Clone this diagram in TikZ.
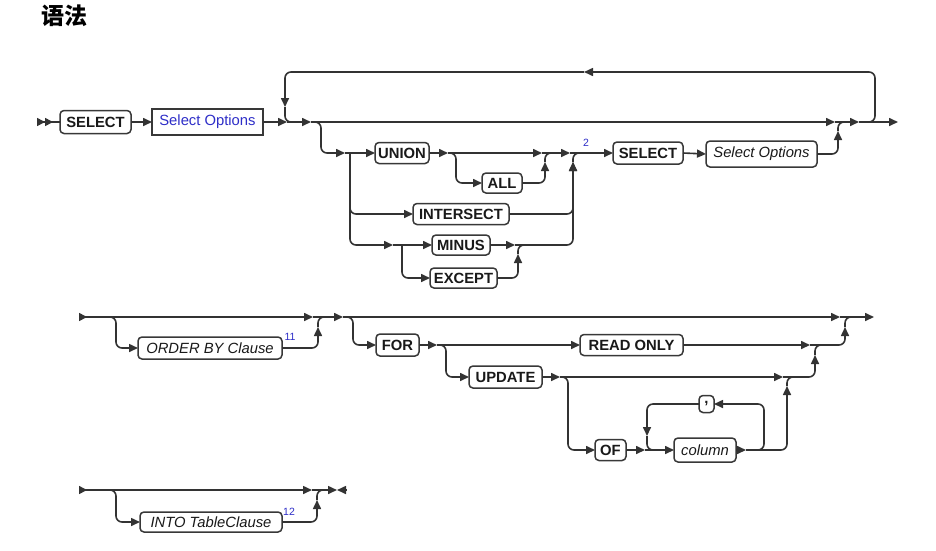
\documentclass[tikz,border=0pt]{standalone}
\usepackage{fontspec}
\setmainfont{Liberation Sans}
\newfontfamily\cjk{Noto Sans CJK SC}
\usetikzlibrary{arrows.meta}
\definecolor{linec}{HTML}{333333}
\definecolor{boxc}{HTML}{383838}
\definecolor{bluet}{HTML}{2E2EC8}
\begin{document}
\begin{tikzpicture}[x=1pt,y=-1pt,
  every node/.style={inner sep=0pt,outer sep=0pt},
  boxbase/.style={draw=boxc,line width=1.5pt,rounded corners=4pt,text=black!90,minimum height=21},
  kw/.style={boxbase,font=\fontsize{14.8}{16}\selectfont\bfseries},
  nt/.style={boxbase,font=\fontsize{14.8}{16}\selectfont\itshape},
  ntblue/.style={draw=boxc,line width=1.5pt,text=bluet,font=\fontsize{14.8}{16}\selectfont},
  rr/.style={draw=linec,line width=1.6pt,rounded corners=6pt},
  ar/.style={rr,-{Triangle[length=9pt,width=8pt]}},
  supnum/.style={text=bluet,font=\fontsize{10.5}{12}\selectfont}
]
\fill[white] (0,0) rectangle (936,550);
\useasboundingbox (0,0) rectangle (936,550);

\node[font=\cjk\fontsize{23}{26}\selectfont\bfseries] (title) at (64,16) {语法};

% ---------------- Row 1 ----------------
\node[kw,minimum width=71,minimum height=23] (sel1) at (95.5,122) {SELECT};
\node[ntblue,minimum width=111,minimum height=26] (so1) at (207.5,122) {Select Options};
\node[kw,minimum width=54] (union) at (402,153) {UNION};
\node[kw,minimum width=40,minimum height=20] (all) at (502,183) {ALL};
\node[kw,minimum width=96] (intersect) at (461,214) {INTERSECT};
\node[kw,minimum width=58,minimum height=20] (minus) at (461,245) {MINUS};
\node[kw,minimum width=67,minimum height=20] (except) at (463.5,278) {EXCEPT};
\node[kw,minimum width=70,minimum height=22] (sel2) at (648,153) {SELECT};
\node[nt,minimum width=111,minimum height=26] (so2) at (761.5,154) {Select Options};
\node[supnum] (sup2) at (586,143) {2};

\coordinate (s1) at (37,122);
\coordinate (j1) at (287,122);
\coordinate (j2) at (311,122);
\coordinate (j3) at (835,122);
\coordinate (j4) at (859,122);
\coordinate (e1) at (898,122);
\coordinate (lr) at (875,72);
\coordinate (lm) at (584,72);
\coordinate (ll) at (285,107);
\coordinate (m1) at (297,122);
\coordinate (b1) at (345,153);
\coordinate (v1) at (350,153);
\coordinate (m2) at (393,245);
\coordinate (v2) at (402,245);
\coordinate (m3) at (515,245);
\coordinate (x1) at (518,254);
\coordinate (x2) at (526,245);
\coordinate (u0) at (448,153);
\coordinate (a1) at (542,153);
\coordinate (a2) at (545,162);
\coordinate (a3) at (553,153);
\coordinate (u1) at (570,153);
\coordinate (u2) at (573,162);
\coordinate (u3) at (581,153);
\coordinate (r1) at (838,131);
\coordinate (r2) at (846,122);

\draw[rr,{Triangle[length=8pt,width=8pt,reversed]Triangle[length=8pt,width=8pt,reversed]}-] (s1) -- (sel1.west);
\draw[ar] (sel1.east) -- (so1.west);
\draw[ar] (so1.east) -- (j1);
\draw[ar] (j1) -- (j2);
\draw[ar] (j2) -- (j3);
\draw[ar] (j3) -- (j4);
\draw[ar] (j4) -- (e1);
\draw[ar] (j4) -| (lr) -- (lm);
\draw[ar] (lm) -| (ll);
\draw[rr] (ll) |- (m1);
\draw[ar] (j2) -- ++(10,0) |- (b1);
\draw[ar] (b1) -- (union.west);
\draw[ar] (v1) |- (intersect.west);
\draw[ar] (v1) |- (m2);
\draw[ar] (m2) -- (minus.west);
\draw[ar] (v2) |- (except.west);
\draw[ar] (minus.east) -- (m3);
\draw[ar] (except.east) -| (x1);
\draw[rr] (x1) |- (x2);
\draw[ar] (union.east) -- (u0);
\draw[ar] (u0) -- ++(8,0) |- (all.west);
\draw[ar] (u0) -- (a1);
\draw[ar] (all.east) -| (a2);
\draw[rr] (a2) |- (a3);
\draw[ar] (a1) -- (u1);
\draw[ar] (intersect.east) -| (u2);
\draw[ar] (m3) -| (u2);
\draw[rr] (u2) |- (u3);
\draw[ar] (u1) -- (sel2.west);
\draw[ar] (sel2.east) -- (so2.west);
\draw[ar] (so2.east) -| (r1);
\draw[rr] (r1) |- (r2);

% ---------------- Row 2 ----------------
\node[nt,minimum width=144,minimum height=22] (ord) at (210,348) {ORDER BY Clause};
\node[supnum] (sup11) at (290,337) {11};
\node[kw,minimum width=43,minimum height=22] (for) at (397.5,345) {FOR};
\node[kw,minimum width=103] (ro) at (631.5,345) {READ ONLY};
\node[kw,minimum width=73,minimum height=22] (upd) at (505.5,377) {UPDATE};
\node[kw,minimum width=31] (of) at (610.5,450) {OF};
\node[nt,minimum width=62,minimum height=24] (col) at (705,450) {column};
\node[kw,minimum width=15,minimum height=17] (comma) at (706.5,404) {,};

\coordinate (s2) at (79,317);
\coordinate (k0) at (106,317);
\coordinate (k1) at (313,317);
\coordinate (k2) at (318,327);
\coordinate (k3) at (326,317);
\coordinate (k4) at (343,317);
\coordinate (k5) at (840,317);
\coordinate (e2) at (874,317);
\coordinate (k6) at (845,327);
\coordinate (k7) at (853,317);
\coordinate (f1) at (437,345);
\coordinate (f2) at (810,345);
\coordinate (f3) at (815,355);
\coordinate (f4) at (823,345);
\coordinate (g1) at (560,377);
\coordinate (g2) at (783,377);
\coordinate (g3) at (787,386);
\coordinate (g4) at (795,377);
\coordinate (h1) at (645,450);
\coordinate (h2) at (746,450);
\coordinate (lp1) at (764,404);
\coordinate (lp2) at (647,436);
\coordinate (lp3) at (656,450);

\draw[rr,{Triangle[length=8pt,width=8pt,reversed]}-{Triangle[length=9pt,width=8pt]}] (s2) -- (k1);
\draw[ar] (k0) -- ++(10,0) |- (ord.west);
\draw[ar] (ord.east) -| (k2);
\draw[rr] (k2) |- (k3);
\draw[ar] (k1) -- (k4);
\draw[ar] (k4) -- (k5);
\draw[ar] (k5) -- (e2);
\draw[ar] (k4) -- ++(10,0) |- (for.west);
\draw[ar] (for.east) -- (f1);
\draw[ar] (f1) -- (ro.west);
\draw[ar] (f1) -- ++(9,0) |- (upd.west);
\draw[ar] (ro.east) -- (f2);
\draw[ar] (f2) -| (k6);
\draw[rr] (k6) |- (k7);
\draw[ar] (upd.east) -- (g1);
\draw[ar] (g1) -- (g2);
\draw[ar] (g1) -- ++(8,0) |- (of.west);
\draw[ar] (g2) -| (f3);
\draw[rr] (f3) |- (f4);
\draw[ar] (of.east) -- (h1);
\draw[ar] (h1) -- (col.west);
\draw[ar] (col.east) -- (h2);
\draw[ar] (h2) -| (lp1) -- (comma.east);
\draw[ar] (comma.west) -| (lp2);
\draw[rr] (lp2) |- (lp3);
\draw[ar] (h2) -| (g3);
\draw[rr] (g3) |- (g4);

% ---------------- Row 3 ----------------
\node[nt,minimum width=142,minimum height=20] (into) at (211,522) {INTO TableClause};
\node[supnum] (sup12) at (289,512) {12};

\coordinate (s3) at (79,490);
\coordinate (q0) at (106,490);
\coordinate (q1) at (312,490);
\coordinate (q2) at (317,500);
\coordinate (q3) at (325,490);
\coordinate (e3) at (337,490);
\coordinate (e3r) at (346,490);

\draw[rr,{Triangle[length=8pt,width=8pt,reversed]}-{Triangle[length=9pt,width=8pt]}] (s3) -- (q1);
\draw[ar] (q0) -- ++(10,0) |- (into.west);
\draw[ar] (into.east) -| (q2);
\draw[rr] (q2) |- (q3);
\draw[ar] (q1) -- (e3);
\draw[ar] (e3r) -- (e3);
\end{tikzpicture}
\end{document}
